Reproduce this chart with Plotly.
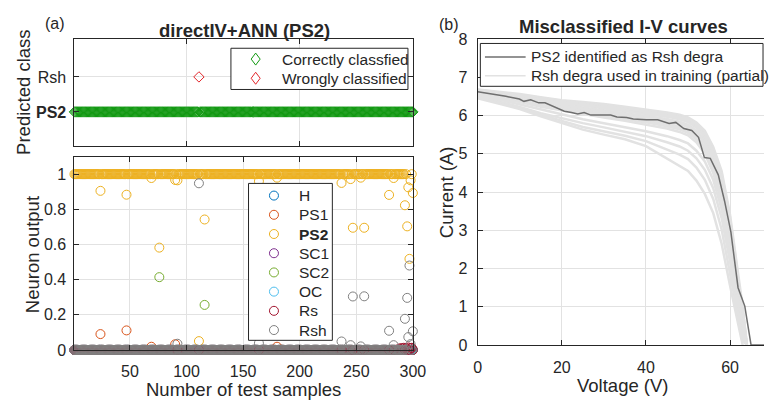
import plotly.graph_objects as go

W, H = 777, 410
FONT = "Liberation Sans, Arial, Helvetica, sans-serif"
INK = "#262626"
GRID = "#e2e2e2"

# ---------------- (a) neuron outputs over the 300 test samples ----------------
SAMPLES = list(range(1, 301))
CLASS_NAMES = ["H", "PS1", "PS2", "SC1", "SC2", "OC", "Rs", "Rsh"]
CLASS_COLORS = ["#0072BD", "#D95319", "#EDB120", "#7E2F8E",
                "#77AC30", "#4DBEEE", "#A2142F", "#808080"]
TRUE_CLASS = "PS2"

# outputs that leave the 1 (PS2) / 0 (other neurons) bands, by sample number
PS2_OUT = {24: 0.905, 47: 0.883, 69: 0.978, 76: 0.582, 90: 0.967, 92: 0.965,
           111: 0.050, 116: 0.742, 164: 0.960, 180: 0.980, 237: 0.950,
           245: 0.972, 247: 0.695, 254: 0.980, 257: 0.695, 279: 0.882,
           283: 0.978, 293: 0.823, 295: 0.703, 296: 0.925, 297: 0.518,
           298: 0.965, 300: 0.893}
PS1_OUT = {24: 0.090, 47: 0.111, 69: 0.018, 90: 0.032, 180: 0.018}
SC2_OUT = {76: 0.414, 116: 0.256}
RS_OUT = {288: 0.008, 290: 0.010, 292: 0.012, 294: 0.010, 296: 0.014,
          298: 0.010, 299: 0.012}
RSH_OUT = {92: 0.035, 111: 0.948, 164: 0.038, 237: 0.048, 245: 0.027,
           247: 0.304, 254: 0.020, 257: 0.305, 279: 0.109, 283: 0.027,
           293: 0.177, 295: 0.296, 296: 0.073, 297: 0.480, 298: 0.033,
           300: 0.106}
SPECIAL = {"PS2": PS2_OUT, "PS1": PS1_OUT, "SC2": SC2_OUT, "Rs": RS_OUT,
           "Rsh": RSH_OUT}

outputs = {}
for name in CLASS_NAMES:
    base = 1.0 if name == TRUE_CLASS else 0.0
    table = SPECIAL.get(name, {})
    outputs[name] = [table.get(s, base) for s in SAMPLES]

# predicted class = neuron with the largest output
predicted = []
for i in range(len(SAMPLES)):
    best = max(CLASS_NAMES, key=lambda n: outputs[n][i])
    predicted.append(best)

PRED_LEVELS = {"PS2": 1, "Rsh": 2}
PRED_TICKS = ["<b>PS2</b>", "Rsh"]

# ---------------- (b) I-V curves ----------------
V_PS2 = [0, 3.6, 6.7, 9.9, 11.0, 12.6, 14.5, 16.0, 17.6, 20.6, 22.3, 23.8,
         25.3, 26.9, 31.6, 33.1, 35.4, 37.0, 40.1, 42.8, 45.5, 47.1, 49.0,
         50.9, 52.5, 53.9, 55.3, 57.2, 58.7, 60.2, 61.9, 63.5, 65.0, 70.0]
I_PS2 = [6.62, 6.56, 6.50, 6.43, 6.37, 6.41, 6.33, 6.33, 6.25, 6.11, 6.08,
         6.04, 6.08, 6.01, 6.01, 5.96, 5.95, 5.91, 5.89, 5.89, 5.79, 5.82,
         5.66, 5.61, 5.43, 4.90, 4.88, 4.45, 3.76, 2.95, 1.50, 1.02, 0.0, 0.0]

V_TRAIN = [0, 5, 10, 15, 20, 25, 30, 35, 40, 45, 48, 50, 52, 54, 56, 58, 60,
           62, 63, 64, 65]
I_TRAIN = [
    [6.68, 6.62, 6.56, 6.48, 6.40, 6.35, 6.30, 6.23, 6.16, 6.08, 6.02, 5.95, 5.82, 5.60, 5.18, 4.55, 3.40, 1.75, 1.00, 0.00, 0.00],
    [6.67, 6.60, 6.54, 6.46, 6.38, 6.32, 6.27, 6.20, 6.13, 6.05, 5.99, 5.92, 5.78, 5.56, 5.13, 4.48, 3.33, 1.68, 0.96, 0.00, 0.00],
    [6.66, 6.59, 6.52, 6.44, 6.36, 6.30, 6.24, 6.17, 6.10, 6.02, 5.96, 5.89, 5.75, 5.52, 5.08, 4.42, 3.25, 1.62, 0.92, 0.00, 0.00],
    [6.65, 6.58, 6.50, 6.42, 6.34, 6.28, 6.21, 6.14, 6.07, 5.99, 5.93, 5.86, 5.71, 5.48, 5.03, 4.35, 3.18, 1.56, 0.86, 0.00, 0.00],
    [6.64, 6.57, 6.49, 6.41, 6.32, 6.26, 6.19, 6.12, 6.05, 5.97, 5.90, 5.83, 5.68, 5.44, 4.98, 4.28, 3.10, 1.50, 0.80, 0.00, 0.00],
    [6.63, 6.55, 6.46, 6.37, 6.28, 6.21, 6.14, 6.07, 5.99, 5.91, 5.84, 5.76, 5.61, 5.36, 4.88, 4.15, 2.98, 1.40, 0.68, 0.00, 0.00],
    [6.62, 6.54, 6.45, 6.35, 6.26, 6.19, 6.12, 6.04, 5.96, 5.88, 5.81, 5.73, 5.58, 5.32, 4.84, 4.10, 2.93, 1.36, 0.64, 0.00, 0.00],
    [6.61, 6.52, 6.43, 6.33, 6.24, 6.16, 6.09, 6.01, 5.93, 5.85, 5.78, 5.70, 5.54, 5.28, 4.79, 4.04, 2.88, 1.32, 0.60, 0.00, 0.00],
    [6.60, 6.50, 6.40, 6.30, 6.20, 6.12, 6.04, 5.96, 5.88, 5.79, 5.71, 5.63, 5.46, 5.19, 4.70, 3.93, 2.78, 1.25, 0.55, 0.00, 0.00],
    [6.59, 6.49, 6.39, 6.28, 6.18, 6.10, 6.01, 5.93, 5.85, 5.75, 5.67, 5.59, 5.42, 5.14, 4.65, 3.87, 2.73, 1.22, 0.52, 0.00, 0.00],
    [6.58, 6.48, 6.38, 6.27, 6.17, 6.08, 5.99, 5.91, 5.82, 5.72, 5.64, 5.55, 5.38, 5.10, 4.60, 3.82, 2.68, 1.20, 0.50, 0.00, 0.00],
    [6.56, 6.46, 6.35, 6.23, 6.13, 6.03, 5.95, 5.86, 5.76, 5.66, 5.57, 5.48, 5.30, 5.00, 4.50, 3.72, 2.60, 1.15, 0.45, 0.00, 0.00],
    [6.55, 6.42, 6.28, 6.14, 6.01, 5.90, 5.80, 5.70, 5.59, 5.46, 5.36, 5.27, 5.08, 4.80, 4.32, 3.55, 2.40, 1.00, 0.35, 0.00, 0.00],
    [6.52, 6.38, 6.22, 6.06, 5.92, 5.80, 5.69, 5.58, 5.46, 5.30, 5.19, 5.08, 4.88, 4.58, 4.10, 3.32, 2.18, 0.85, 0.22, 0.00, 0.00],
    [6.48, 6.35, 6.20, 6.02, 5.86, 5.70, 5.58, 5.47, 5.33, 5.12, 4.98, 4.86, 4.64, 4.32, 3.82, 3.02, 1.90, 0.70, 0.12, 0.00, 0.00],
    [6.45, 6.32, 6.17, 5.98, 5.80, 5.63, 5.50, 5.38, 5.20, 4.88, 4.70, 4.55, 4.30, 3.95, 3.45, 2.65, 1.55, 0.50, 0.00, 0.00, 0.00],
]

DARK = "#6f6f6f"
LIGHT = "#e2e2e2"
GREEN = "#119911"
RED = "#e3262b"


def px(x):
    return x / W


def py(y):
    return 1 - y / H


fig = go.Figure()

# ---- top-left: predicted class ----
ok_x = [s for s, p in zip(SAMPLES, predicted) if p == TRUE_CLASS]
ok_y = [PRED_LEVELS[p] for p in predicted if p == TRUE_CLASS]
bad_x = [s for s, p in zip(SAMPLES, predicted) if p != TRUE_CLASS]
bad_y = [PRED_LEVELS[p] for p in predicted if p != TRUE_CLASS]

fig.add_trace(go.Scatter(x=ok_x, y=ok_y, mode="markers", xaxis="x", yaxis="y",
                         marker=dict(symbol="diamond-open", size=8, color=GREEN,
                                     line=dict(width=1)),
                         cliponaxis=False, showlegend=False,
                         name="Correctly classfied"))
fig.add_trace(go.Scatter(x=bad_x, y=bad_y, mode="markers", xaxis="x", yaxis="y",
                         marker=dict(symbol="diamond-open", size=8, color=RED,
                                     line=dict(width=1)),
                         cliponaxis=False, showlegend=False,
                         name="Wrongly classified"))

# ---- bottom-left: neuron outputs ----
for name, color in zip(CLASS_NAMES, CLASS_COLORS):
    fig.add_trace(go.Scatter(x=SAMPLES, y=outputs[name], mode="markers",
                             xaxis="x2", yaxis="y2", name=name,
                             marker=dict(symbol="circle-open", size=9, color=color,
                                         line=dict(width=1)),
                             cliponaxis=False, showlegend=False))

# ---- right: I-V curves ----
for row in I_TRAIN:
    v, i = [], []
    for vv, ii in zip(V_TRAIN, row):
        v.append(vv)
        i.append(ii)
        if ii <= 0:
            break
    fig.add_trace(go.Scatter(x=v, y=i, mode="lines", xaxis="x3", yaxis="y3",
                             line=dict(color=LIGHT, width=2.5), showlegend=False,
                             name="Rsh degra used in training (partial)"))
fig.add_trace(go.Scatter(x=V_PS2, y=I_PS2, mode="lines", xaxis="x3", yaxis="y3",
                         line=dict(color=DARK, width=1.5), showlegend=False,
                         name="PS2 identified as Rsh degra"))

axis_style = dict(showline=True, linecolor=INK, linewidth=1, mirror="ticks",
                  ticks="inside", ticklen=5, tickcolor=INK, tickwidth=1,
                  showgrid=True, gridcolor=GRID, gridwidth=1, zeroline=False,
                  tickfont=dict(family=FONT, size=16, color=INK))

LX = [px(72), px(418)]
fig.update_layout(
    width=W, height=H, autosize=False,
    margin=dict(l=0, r=0, t=0, b=0),
    paper_bgcolor="white", plot_bgcolor="white",
    xaxis=dict(axis_style, domain=LX, range=[1, 300], tickvals=[100, 200],
               showticklabels=False, anchor="y"),
    yaxis=dict(axis_style, domain=[py(144), py(32.3)], range=[0.025, 3.085],
               tickvals=[1, 2], ticktext=PRED_TICKS, anchor="x",
               ticklabelstandoff=4),
    xaxis2=dict(axis_style, domain=LX, range=[1, 300],
                tickvals=[50, 100, 150, 200, 250, 300], anchor="y2",
                ticklabelstandoff=7),
    yaxis2=dict(axis_style, domain=[py(356.7), py(155)], range=[0, 1.1],
                tickvals=[0, 0.2, 0.4, 0.6, 0.8, 1],
                ticktext=["0", "0.2", "0.4", "0.6", "0.8", "1"], anchor="x2",
                ticklabelstandoff=4),
    xaxis3=dict(axis_style, domain=[px(484.3), 1.0], range=[0, (W - 484.3) / 4.3],
                tickvals=[0, 20, 40, 60], anchor="y3", ticklabelstandoff=8),
    yaxis3=dict(axis_style, domain=[py(351.7), py(32.3)], range=[0, 8],
                tickvals=list(range(9)), anchor="x3", mirror=False,
                ticklabelstandoff=6),
)

# ---- text ----
def text(x, y, s, size=15.5, angle=0, anchor="center", bold=False):
    if bold:
        s = "<b>" + s + "</b>"
    fig.add_annotation(x=px(x), y=py(y), xref="paper", yref="paper", text=s,
                       showarrow=False, xanchor=anchor, yanchor="middle",
                       textangle=angle, font=dict(family=FONT, size=size, color=INK),
                       borderpad=0)

text(52, 16.5, "(a)", size=16)
text(455, 17.5, "(b)", size=16)
text(245.5, 23.5, "directIV+ANN (PS2)", size=18.5, bold=True)
text(633.8, 19, "Misclassified I-V curves", size=18.5, bold=True)
text(20, 88, "Predicted class", size=18.5, angle=-90)
text(28.5, 257, "Neuron output", size=18.5, angle=-90)
text(452, 192, "Current (A)", size=18.5, angle=-90)
text(245, 398, "Number of test samples", size=18.5)
text(633, 394, "Voltage (V)", size=18.5)

# ---- legends ----
shapes = []


def box(x0, y0, x1, y1):
    shapes.append(dict(type="rect", xref="paper", yref="paper",
                       x0=px(x0), x1=px(x1), y0=py(y1), y1=py(y0),
                       line=dict(color=INK, width=1), fillcolor="white",
                       layer="above"))


def diamond(cx, cy, color):
    shapes.append(dict(type="path", xref="paper", yref="paper",
                       xsizemode="pixel", ysizemode="pixel",
                       xanchor=px(cx), yanchor=py(cy),
                       path="M 0,6 L 4.5,0 L 0,-6 L -4.5,0 Z",
                       line=dict(color=color, width=1), layer="above"))


def ring(cx, cy, color):
    shapes.append(dict(type="circle", xref="paper", yref="paper",
                       xsizemode="pixel", ysizemode="pixel",
                       xanchor=px(cx), yanchor=py(cy),
                       x0=-4.5, x1=4.5, y0=-4.5, y1=4.5,
                       line=dict(color=color, width=1), layer="above"))


def seg(x0, x1, y, color, width):
    shapes.append(dict(type="line", xref="paper", yref="paper",
                       x0=px(x0), x1=px(x1), y0=py(y), y1=py(y),
                       line=dict(color=color, width=width), layer="above"))


# predicted-class legend
box(232, 42, 413, 85)
for k, (label, color) in enumerate([("Correctly classfied", GREEN),
                                    ("Wrongly classified", RED)]):
    yy = 53.3 + 20 * k
    diamond(257.3, yy, color)
    text(282.7, yy, label, anchor="left")

# neuron legend
box(250, 183, 335.7, 346.7)
for k, (name, color) in enumerate(zip(CLASS_NAMES, CLASS_COLORS)):
    yy = 195.7 + 20.04 * k
    ring(276, yy, color)
    text(301, yy, name, anchor="left", bold=(name == TRUE_CLASS))

# I-V legend
box(487, 37, 776, 81.7)
seg(491.7, 533.3, 51, DARK, 1.5)
seg(491.7, 533.3, 70.7, LIGHT, 1.5)
text(537.7, 51, "PS2 identified as Rsh degra", anchor="left")
text(537.7, 70.7, "Rsh degra used in training (partial)", anchor="left")

fig.update_layout(shapes=shapes)
fig.write_html("out.html")
